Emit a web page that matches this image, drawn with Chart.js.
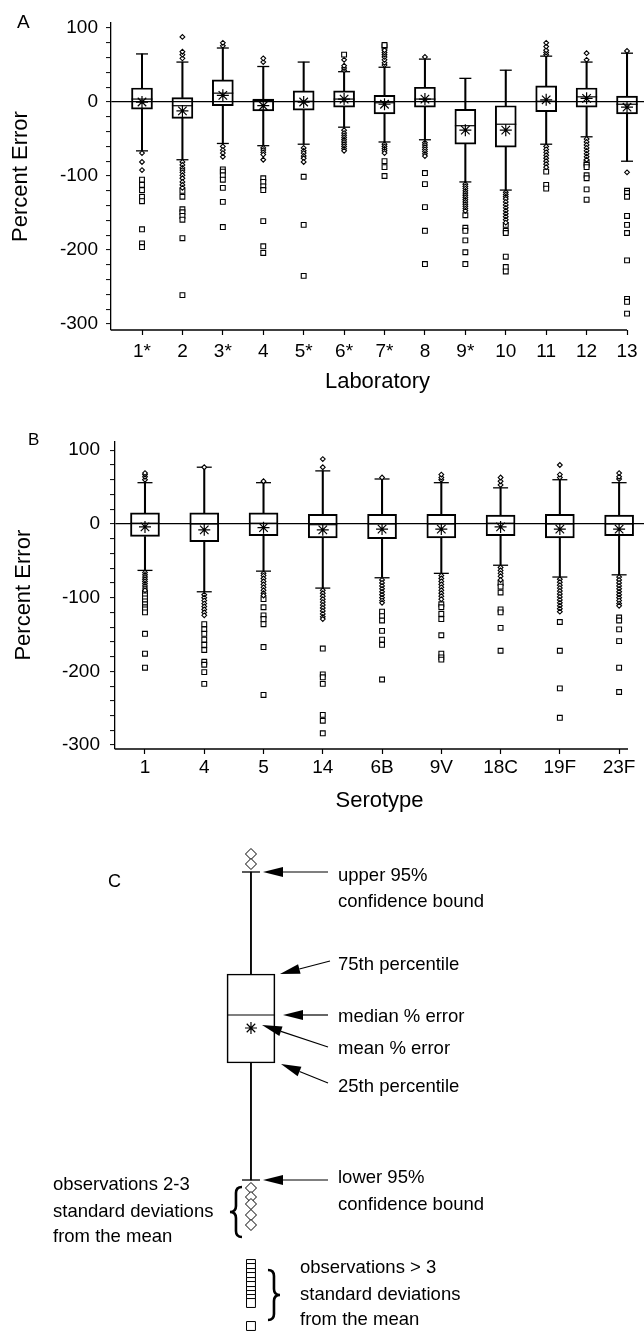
<!DOCTYPE html>
<html>
<head>
<meta charset="utf-8">
<script src="https://cdn.jsdelivr.net/npm/chart.js@4.4.1/dist/chart.umd.min.js"></script>
<style>
  body { margin: 0; background: #fff; width: 644px; height: 1333px; position: relative; overflow: hidden; }
  canvas { position: absolute; left: 0; }
</style>
</head>
<body>
<canvas id="chartA" width="644" height="405" style="top:0px"></canvas>
<canvas id="chartB" width="644" height="405" style="top:420px"></canvas>
<canvas id="chartC" width="644" height="513" style="top:820px"></canvas>
<script>
const FONT = "'Liberation Sans', Arial, Helvetica, sans-serif";

// Panel A - percent error by laboratory
const labLabels = ['1*', '2', '3*', '4', '5*', '6*', '7*', '8', '9*', '10', '11', '12', '13'];
const labQ1 = [-9.5, -22, -5, -12, -11, -7, -16, -7, -57, -61, -13, -7, -16];
const labQ3 = [19, 6, 30, 4, 15, 15, 9, 20, -10, -5, 22, 19, 8];
const labMedian = [4, -5, 12, 2, 1, 4, -1, 4, -32, -30, 1, 7, -3];
const labMean = [0, -12, 9, -5, 0, 4, -3, 4, -38, -38, 3, 5, -7];
const labLower = [-66, -78, -56, -59, -57, -34, -54, -51, -108, -119, -57, -47, -80];
const labUpper = [65, 54, 73, 48, 54, 41, 47, 58, 32, 43, 62, 54, 66];
// observations 2-3 SD from the mean
const labDiamonds = [
  [-69, -81, -92],
  [59, 64, 68, 88, -81, -85, -89, -92, -95, -99, -103, -108, -112, -116],
  [76, 80, -60, -65, -69, -74],
  [54, 59, -62, -65, -68, -71, -78],
  [-62, -66, -69, -73, -76, -81],
  [43, 46, 49, 57, -38, -42, -45, -48, -51, -54, -57, -60, -63, -66],
  [50, 53, 57, 61, 64, 67, 70, -57, -60, -63, -66, -69],
  [61, -55, -58, -61, -64, -67, -70, -73],
  [-111, -114, -117, -120, -123, -126, -129, -132, -135, -138, -141, -144, -147],
  [-122, -125, -128, -131, -135, -139, -143, -147, -151, -155, -159, -163],
  [64, 67, 70, 75, 80, -60, -64, -68, -72, -76, -80, -84, -88],
  [57, 66, -50, -54, -58, -62, -66, -70, -74, -78],
  [69, -95]
];
// observations > 3 SD from the mean
const labSquares = [
  [-105, -112, -119, -128, -134, -172, -191, -196],
  [-120, -128, -145, -149, -154, -159, -184, -261],
  [-91, -94, -99, -105, -116, -135, -169],
  [-103, -108, -114, -119, -161, -195, -204],
  [-101, -166, -235],
  [64],
  [75, 77, -80, -88, -100],
  [-96, -111, -142, -174, -219],
  [-153, -170, -174, -187, -203, -219],
  [-166, -174, -177, -209, -223, -229],
  [-94, -112, -117],
  [-82, -85, -88, -99, -103, -118, -132],
  [-120, -123, -128, -154, -166, -177, -214, -266, -270, -286]
];

// Panel B - percent error by serotype
const seroLabels = ['1', '4', '5', '14', '6B', '9V', '18C', '19F', '23F'];
const seroQ1 = [-17, -24, -16, -19, -20, -19, -16, -19, -16];
const seroQ3 = [15, 15, 15, 13, 13, 13, 12, 13, 12];
const seroMedian = [1, 0, 1, -1, 0, 0, 1, 0, 0];
const seroMean = [-4, -8, -5, -8, -7, -7, -4, -7, -7];
const seroLower = [-63, -92, -64, -87, -73, -67, -56, -72, -69];
const seroUpper = [56, 77, 56, 72, 61, 56, 49, 60, 56];
const seroDiamonds = [
  [60, 64, 67, 69, -66, -69, -72, -75, -78, -81, -84, -87, -90],
  [77, -96, -100, -104, -108, -112, -116, -120, -124],
  [58, -67, -70, -74, -78, -82, -86, -90, -94, -97],
  [77, 88, -90, -94, -98, -102, -106, -110, -114, -118, -122, -126, -129],
  [63, -76, -80, -84, -88, -92, -96, -100, -104, -107],
  [60, 63, 67, -70, -74, -78, -82, -86, -90, -94, -98, -102],
  [53, 58, 63, -59, -63, -67, -71, -76],
  [63, 67, 80, -75, -79, -83, -87, -91, -95, -99, -103, -107, -111, -115, -119],
  [61, 64, 69, -72, -76, -80, -84, -88, -92, -96, -100, -104, -108, -111]
];
const seroSquares = [
  [-93, -97, -101, -105, -109, -113, -116, -120, -149, -176, -195],
  [-136, -143, -149, -157, -164, -171, -187, -191, -201, -217],
  [-102, -113, -124, -129, -136, -167, -232],
  [-169, -204, -208, -217, -259, -267, -284],
  [-119, -125, -131, -145, -157, -164, -211],
  [-109, -113, -122, -129, -151, -176, -181, -184],
  [-80, -85, -93, -116, -120, -141, -172],
  [-133, -172, -223, -263],
  [-127, -131, -143, -159, -195, -228]
];

const yTickValues = [-300, -280, -260, -240, -220, -200, -180, -160, -140, -120, -100,
  -80, -60, -40, -20, 0, 20, 40, 60, 80, 100];

// Panel C - key (schematic values)
const cQ1 = [-30];
const cQ3 = [59];
const cMedian = [18];
const cMean = [5];
const cLower = [-147];
const cUpper = [161];
const cDiamondsAbove = [179, 169];
const cDiamondsBelow = [-155, -164, -171, -182, -192];
const cSquares = [-231, -235, -240, -244, -249, -253, -258, -262, -266, -270, -293];

function points(groups) {
  const out = [];
  groups.forEach((g, i) => g.forEach(v => out.push({ x: i + 1, y: v })));
  return out;
}

function boxDatasets(s, st) {
  const idx = s.q1.map((_, i) => i + 1);
  const pt = { type: 'scatter', pointBorderColor: '#000', pointBackgroundColor: '#fff', clip: false };
  return [
    Object.assign({}, pt, { data: points(s.dia), pointStyle: 'rectRot', pointRadius: st.dia, pointBorderWidth: st.ptLine }),
    Object.assign({}, pt, { data: points(s.sq), pointStyle: 'rect', pointRadius: st.sq, pointBorderWidth: st.ptLine }),
    Object.assign({}, pt, { data: idx.map((x, i) => ({ x, y: s.mean[i] })), pointStyle: 'star', pointRadius: st.star, pointBorderWidth: 1.2 }),
    Object.assign({}, pt, { data: idx.map((x, i) => ({ x, y: s.median[i] })), pointStyle: 'line', pointRadius: st.box / 2, pointBorderWidth: 1.2 }),
    Object.assign({}, pt, { data: idx.map((x, i) => ({ x, y: s.hi[i] })).concat(idx.map((x, i) => ({ x, y: s.lo[i] }))), pointStyle: 'line', pointRadius: st.cap, pointBorderWidth: 1.3 }),
    { type: 'bar', data: idx.map((x, i) => ({ x, y: [s.q1[i], s.q3[i]] })), barThickness: st.box, grouped: false,
      backgroundColor: 'rgba(0,0,0,0)', borderColor: '#000', borderWidth: st.line, borderSkipped: false },
    { type: 'bar', data: idx.map((x, i) => ({ x, y: [s.q3[i], s.hi[i]] })), barThickness: st.whisker, grouped: false,
      backgroundColor: '#000', borderWidth: 0 },
    { type: 'bar', data: idx.map((x, i) => ({ x, y: [s.lo[i], s.q1[i]] })), barThickness: st.whisker, grouped: false,
      backgroundColor: '#000', borderWidth: 0 }
  ];
}

const decor = {
  id: 'decor',
  afterDraw(chart, args, opts) {
    const { ctx, chartArea, scales } = chart;
    ctx.save();
    ctx.fillStyle = '#000';
    ctx.font = opts.letterFont;
    ctx.fillText(opts.letter, opts.letterX, opts.letterY);
    ctx.strokeStyle = '#000';
    ctx.lineWidth = 1.3;
    ctx.beginPath();
    ctx.moveTo(chartArea.left, chartArea.bottom);
    ctx.lineTo(scales.x.getPixelForValue(opts.axisEnd), chartArea.bottom);
    ctx.stroke();
    ctx.restore();
  }
};

function panelOptions(p) {
  return {
    responsive: false,
    animation: false,
    events: [],
    layout: { autoPadding: false, padding: { top: p.top, left: 0, right: 0, bottom: 0 } },
    plugins: {
      legend: { display: false },
      tooltip: { enabled: false },
      decor: { letter: p.letter, letterX: p.letterX, letterY: p.letterY, letterFont: p.letterFont, axisEnd: p.axisEnd }
    },
    scales: {
      x: {
        type: 'linear', min: p.xMin, max: p.xMax, offset: false,
        afterBuildTicks: s => { s.ticks = p.labels.map((_, i) => ({ value: i + 1 })); },
        afterFit: s => { s.height = p.xHeight; },
        border: { display: false },
        grid: { offset: false, drawOnChartArea: false, drawTicks: true, tickLength: 5, tickColor: '#000', tickWidth: 1.2 },
        ticks: { autoSkip: false, maxRotation: 0, padding: p.xTickPad, color: '#000',
          font: { family: FONT, size: 19 }, callback: v => p.labels[Math.round(v) - 1] },
        title: { display: true, text: p.xTitle, color: '#000', font: { family: FONT, size: 22 },
          padding: { top: 0, bottom: p.xTitlePad } }
      },
      y: {
        type: 'linear', min: p.yMin, max: p.yMax,
        afterBuildTicks: s => { s.ticks = yTickValues.map(v => ({ value: v })); },
        afterFit: s => { s.width = p.yWidth; },
        border: { display: true, color: '#000', width: 1.3 },
        grid: {
          color: c => (c.tick && c.tick.value === 0 ? '#000' : 'rgba(0,0,0,0)'),
          lineWidth: 1.2, tickColor: '#000', tickLength: 5, tickWidth: 1
        },
        ticks: { autoSkip: false, padding: p.yTickPad, color: '#000', font: { family: FONT, size: 19 },
          callback: v => (v % 100 === 0 ? String(v) : '') },
        title: { display: true, text: 'Percent Error', color: '#000', font: { family: FONT, size: 22 },
          padding: { top: p.yTitlePad, bottom: 0 } }
      }
    }
  };
}

new Chart(document.getElementById('chartA'), {
  type: 'scatter',
  data: {
    datasets: boxDatasets(
      { q1: labQ1, q3: labQ3, median: labMedian, mean: labMean, lo: labLower, hi: labUpper, dia: labDiamonds, sq: labSquares },
      { box: 21, cap: 6, star: 6, dia: 2.4, sq: 3.4, line: 1.3, whisker: 1.4, ptLine: 1.1 })
  },
  options: panelOptions({
    top: 23, labels: labLabels, xMin: 0.233, xMax: 13.42, yMin: -308.1, yMax: 106.8,
    xHeight: 75, xTickPad: 5, xTitle: 'Laboratory', xTitlePad: 10,
    yWidth: 111, yTickPad: 8, yTitlePad: 8,
    letter: 'A', letterX: 17, letterY: 28, letterFont: '19px ' + FONT, axisEnd: 13
  }),
  plugins: [decor]
});

new Chart(document.getElementById('chartB'), {
  type: 'scatter',
  data: {
    datasets: boxDatasets(
      { q1: seroQ1, q3: seroQ3, median: seroMedian, mean: seroMean, lo: seroLower, hi: seroUpper, dia: seroDiamonds, sq: seroSquares },
      { box: 29, cap: 7.5, star: 6, dia: 2.4, sq: 3.4, line: 1.3, whisker: 1.4, ptLine: 1.1 })
  },
  options: panelOptions({
    top: 16, labels: seroLabels, xMin: 0.494, xMax: 9.42, yMin: -305.3, yMax: 112,
    xHeight: 76, xTickPad: 2, xTitle: 'Serotype', xTitlePad: 11,
    yWidth: 115, yTickPad: 10, yTitlePad: 11,
    letter: 'B', letterX: 28, letterY: 25, letterFont: '17px ' + FONT, axisEnd: 9.15
  }),
  plugins: [decor]
});

function arrow(ctx, x0, y0, x1, y1) {
  const ang = Math.atan2(y1 - y0, x1 - x0);
  const len = 20, hw = 5;
  const bx = x1 - Math.cos(ang) * len, by = y1 - Math.sin(ang) * len;
  ctx.lineWidth = 1.2;
  ctx.beginPath();
  ctx.moveTo(x0, y0);
  ctx.lineTo(bx, by);
  ctx.stroke();
  ctx.beginPath();
  ctx.moveTo(x1, y1);
  ctx.lineTo(bx + Math.sin(ang) * hw, by - Math.cos(ang) * hw);
  ctx.lineTo(bx - Math.sin(ang) * hw, by + Math.cos(ang) * hw);
  ctx.closePath();
  ctx.fill();
}

function brace(ctx, xe, xm, y1, y2) {
  const xc = (xe + xm) / 2, ym = (y1 + y2) / 2, r = 6;
  ctx.lineWidth = 2.6;
  ctx.beginPath();
  ctx.moveTo(xe, y1);
  ctx.quadraticCurveTo(xc, y1, xc, y1 + r);
  ctx.lineTo(xc, ym - r);
  ctx.quadraticCurveTo(xc, ym, xm, ym);
  ctx.quadraticCurveTo(xc, ym, xc, ym + r);
  ctx.lineTo(xc, y2 - r);
  ctx.quadraticCurveTo(xc, y2, xe, y2);
  ctx.stroke();
}

const keyNotes = {
  id: 'keyNotes',
  afterDatasetsDraw(chart) {
    const { ctx, scales: { x, y } } = chart;
    const cx = x.getPixelForValue(1);
    const py = v => y.getPixelForValue(v);
    ctx.save();
    ctx.fillStyle = '#000';
    ctx.strokeStyle = '#000';
    ctx.font = '18px ' + FONT;
    ctx.fillText('C', 108, 67);
    ctx.font = '18.5px ' + FONT;
    const lines = [
      ['upper 95%', 338, py(cUpper[0]) + 9],
      ['confidence bound', 338, py(cUpper[0]) + 35],
      ['75th percentile', 338, py(cQ3[0]) - 4],
      ['median % error', 338, py(cMedian[0]) + 7],
      ['mean % error', 338, py(cMean[0]) + 26],
      ['25th percentile', 338, py(cQ1[0]) + 29],
      ['lower 95%', 338, py(cLower[0]) + 3],
      ['confidence bound', 338, py(cLower[0]) + 30],
      ['observations 2-3', 53, py(cLower[0]) + 10],
      ['standard deviations', 53, py(cLower[0]) + 37],
      ['from the mean', 53, py(cLower[0]) + 62],
      ['observations > 3', 300, py(cSquares[0]) + 9],
      ['standard deviations', 300, py(cSquares[0]) + 36],
      ['from the mean', 300, py(cSquares[0]) + 61]
    ];
    lines.forEach(([t, tx, ty]) => ctx.fillText(t, tx, ty));
    arrow(ctx, 328, py(cUpper[0]), cx + 12, py(cUpper[0]));
    arrow(ctx, 330, py(cQ3[0]) - 13, cx + 29, py(cQ3[0]));
    arrow(ctx, 328, py(cMedian[0]), cx + 32, py(cMedian[0]));
    arrow(ctx, 328, py(cMean[0]) + 19, cx + 11, py(cMean[0]) - 3);
    arrow(ctx, 328, py(cQ1[0]) + 20, cx + 30, py(cQ1[0]) + 1);
    arrow(ctx, 328, py(cLower[0]), cx + 12, py(cLower[0]));
    brace(ctx, cx - 9, cx - 21, py(cDiamondsBelow[0]) - 1, py(cDiamondsBelow[cDiamondsBelow.length - 1]) + 12);
    brace(ctx, cx + 17, cx + 29, py(cSquares[0]) + 6, py(cSquares[cSquares.length - 1]) - 6);
    ctx.restore();
  }
};

new Chart(document.getElementById('chartC'), {
  type: 'scatter',
  data: {
    datasets: boxDatasets(
      { q1: cQ1, q3: cQ3, median: cMedian, mean: cMean, lo: cLower, hi: cUpper,
        dia: [cDiamondsAbove.concat(cDiamondsBelow)], sq: [cSquares] },
      { box: 48, cap: 9, star: 6, dia: 5.5, sq: 6.3, line: 1, whisker: 1.2, ptLine: 1 })
  },
  options: {
    responsive: false,
    animation: false,
    events: [],
    layout: { autoPadding: false, padding: 0 },
    plugins: { legend: { display: false }, tooltip: { enabled: false } },
    scales: {
      x: { type: 'linear', display: false, offset: false, min: 0, max: 2.566 },
      y: { type: 'linear', display: false, min: -300, max: 213 }
    }
  },
  plugins: [keyNotes]
});
</script>
</body>
</html>
